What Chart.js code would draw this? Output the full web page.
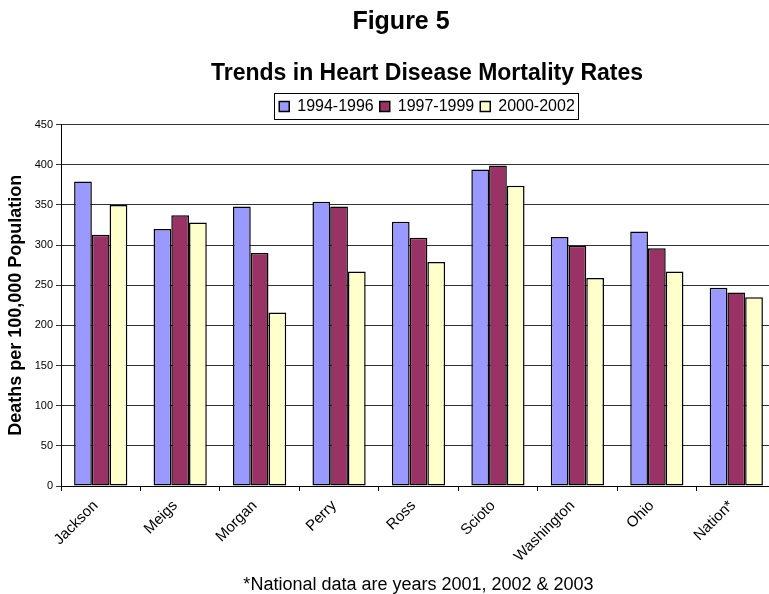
<!DOCTYPE html>
<html>
<head>
<meta charset="utf-8">
<title>Figure 5</title>
<script src="https://cdn.jsdelivr.net/npm/chart.js@4/dist/chart.umd.min.js"></script>
<style>
  html, body { margin: 0; padding: 0; background: #fff; overflow: hidden; }
  #page { position: relative; width: 769px; height: 594px; overflow: hidden; }
  #fig-label {
    position: absolute; top: 8px; left: 0; width: 802px;
    text-align: center; font: bold 25px/25px "Liberation Sans", Arial, sans-serif; color: #000;
  }
  #chart { position: absolute; top: 0; left: 0; }
</style>
</head>
<body>
<div id="page">
  <canvas id="chart" width="854" height="594"></canvas>
  <div id="fig-label">Figure 5</div>
</div>
<script>
// Heart disease deaths per 100,000 by county, three periods
const counties = ["Jackson", "Meigs", "Morgan", "Perry", "Ross", "Scioto", "Washington", "Ohio", "Nation*"];
const periods = ["1994-1996", "1997-1999", "2000-2002"];
const rates9496 = [379, 320, 348, 354, 329, 394, 310, 317, 247];
const rates9799 = [313, 337, 290, 348, 309, 399, 299, 296, 241];
const rates0002 = [350, 328, 216, 267, 279, 374, 259, 267, 235];
const yTicks = [0, 50, 100, 150, 200, 250, 300, 350, 400, 450];

const barColors = ["#9999FF", "#993366", "#FFFFCC"];

Chart.defaults.font.family = "'Liberation Sans', Arial, sans-serif";
Chart.defaults.color = "#000";

// box round the legend row
const legendFrame = {
  id: "legendFrame",
  afterDraw(chart) {
    const boxes = chart.legend && chart.legend.legendHitBoxes;
    if (!boxes || !boxes.length) return;
    const first = boxes[0];
    const last = boxes[boxes.length - 1];
    const x0 = Math.round(first.left - 5) + 0.5;
    const x1 = Math.round(last.left + last.width + 3) + 0.5;
    const y0 = Math.round(first.top - 6) + 0.5;
    const y1 = Math.round(first.top + first.height + 4) + 0.5;
    const ctx = chart.ctx;
    ctx.save();
    ctx.strokeStyle = "#000";
    ctx.lineWidth = 1;
    ctx.strokeRect(x0, y0, x1 - x0, y1 - y0);
    ctx.restore();
  }
};

const makeSet = (label, data, i) => ({
  label,
  data,
  backgroundColor: barColors[i],
  borderColor: "#000",
  borderWidth: 1.5,
  borderSkipped: false,
  categoryPercentage: 0.67,
  barPercentage: 1.0
});

new Chart(document.getElementById("chart"), {
  type: "bar",
  data: {
    labels: counties,
    datasets: [
      makeSet(periods[0], rates9496, 0),
      makeSet(periods[1], rates9799, 1),
      makeSet(periods[2], rates0002, 2)
    ]
  },
  options: {
    responsive: false,
    animation: false,
    layout: { padding: 0 },
    plugins: {
      title: {
        display: true,
        text: "Trends in Heart Disease Mortality Rates",
        font: { size: 23, weight: "bold" },
        color: "#000",
        padding: { top: 60, bottom: 5 }
      },
      legend: {
        display: true,
        labels: {
          font: { size: 16 },
          boxWidth: 10,
          boxHeight: 10,
          padding: 6,
          color: "#000"
        }
      },
      tooltip: { enabled: false }
    },
    scales: {
      x: {
        grid: { display: true, drawOnChartArea: false, color: "#000", tickLength: 5 },
        border: { display: true, color: "#000" },
        ticks: {
          font: { size: 15 },
          minRotation: 45,
          maxRotation: 45,
          autoSkip: false,
          padding: 6,
          labelOffset: -5
        },
        title: {
          display: true,
          text: "*National data are years 2001, 2002 & 2003",
          font: { size: 18, lineHeight: 1.05 },
          padding: { top: 0, bottom: 0 }
        },
        afterFit(scale) { scale.height = 108; }
      },
      y: {
        min: 0,
        max: 450,
        grid: { color: "#333", tickLength: 5 },
        border: { display: true, color: "#000" },
        ticks: {
          font: { size: 11 },
          padding: 3,
          stepSize: 50
        },
        afterBuildTicks(scale) { scale.ticks = yTicks.map(v => ({ value: v })); },
        title: {
          display: true,
          text: "Deaths per 100,000 Population",
          font: { size: 18, weight: "bold" },
          padding: { top: 5, bottom: 0 }
        },
        afterFit(scale) { scale.width = 61; }
      },
      // keeps room on the right so the plot runs past the page edge
      spacer: {
        type: "linear",
        position: "right",
        display: true,
        grid: { display: false, drawTicks: false },
        border: { display: false },
        ticks: { display: false },
        afterFit(scale) { scale.width = 78; }
      }
    }
  },
  plugins: [legendFrame]
});
</script>
</body>
</html>
